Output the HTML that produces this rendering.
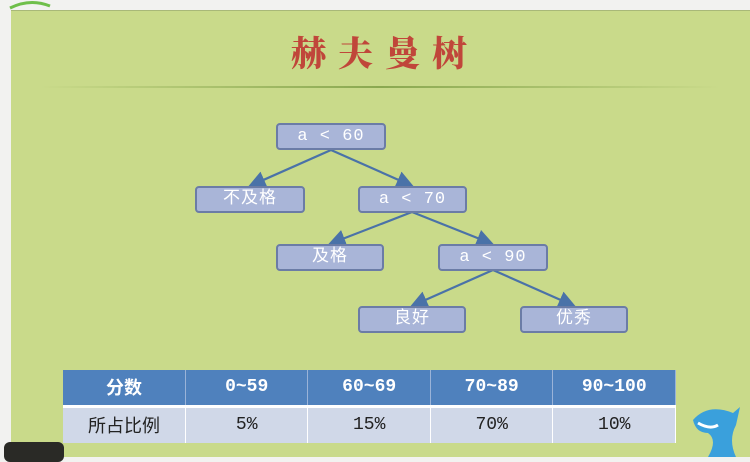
<!DOCTYPE html>
<html><head><meta charset="utf-8">
<style>
*{margin:0;padding:0;box-sizing:border-box}
body{width:750px;height:457px;overflow:hidden;background:#f2f2f0;position:relative;font-family:"Liberation Mono","Noto Sans CJK SC",monospace}
#panel{position:absolute;left:11px;top:10px;width:739px;height:447px;background:#c9da8a;border-top:1px solid #a8b878}
#title{position:absolute;left:0;width:750px;top:27px;text-align:center;font-family:"Noto Serif CJK SC","WenQuanYi Zen Hei",serif;font-weight:900;font-size:35px;color:#c0463a;letter-spacing:12px;padding-left:20px}
#rule{position:absolute;left:40px;top:86px;width:680px;height:2px;background:linear-gradient(90deg,rgba(140,170,80,0),#8aa850 50%,rgba(140,170,80,0))}
.node{position:absolute;height:27px;background:#a9b5d8;border:2px solid #6b7ca6;border-radius:4px;color:#fff;font-size:17px;text-align:center;line-height:23px;letter-spacing:1px}
svg{position:absolute;left:0;top:0}
table{position:absolute;left:63px;top:370px;border-collapse:collapse;width:613px}
td{width:122.6px;text-align:center;font-size:18px}
tr.h td{background:#4f81bd;color:#fff;height:36px;border-right:1px solid #9ab3d8;border-bottom:3px solid #fff;font-weight:bold}
tr.b td{background:#d0d8e8;color:#222;height:37px;border-right:1px solid #fff}
#dark{position:absolute;left:4px;top:442px;width:60px;height:20px;background:#2a2a26;border-radius:6px}
#shark{position:absolute;left:688px;top:405px;width:55px;height:52px}
</style></head><body>
<div id="panel"></div>
<svg width="750" height="20"><path d="M10 8 Q30 -2 50 6" stroke="#6fbf4a" stroke-width="3" fill="none"/></svg>
<div id="title">赫夫曼树</div>
<div id="rule"></div>
<svg width="750" height="457">
<defs><marker id="ar" markerWidth="8" markerHeight="8" refX="6" refY="4" orient="auto"><path d="M0,0 L8,4 L0,8z" fill="#4a72a8"/></marker></defs>
<g stroke="#4a72a8" stroke-width="2.2" marker-end="url(#ar)">
<line x1="331" y1="150" x2="252" y2="185"/>
<line x1="331" y1="150" x2="410" y2="185"/>
<line x1="412" y1="212" x2="332" y2="243"/>
<line x1="412" y1="212" x2="490" y2="243"/>
<line x1="493" y1="270" x2="414" y2="305"/>
<line x1="493" y1="270" x2="572" y2="305"/>
</g></svg>
<div class="node" style="left:276px;top:123px;width:110px">a &lt; 60</div>
<div class="node" style="left:195px;top:186px;width:110px">不及格</div>
<div class="node" style="left:358px;top:186px;width:109px">a &lt; 70</div>
<div class="node" style="left:276px;top:244px;width:108px">及格</div>
<div class="node" style="left:438px;top:244px;width:110px">a &lt; 90</div>
<div class="node" style="left:358px;top:306px;width:108px">良好</div>
<div class="node" style="left:520px;top:306px;width:108px">优秀</div>
<table>
<tr class="h"><td>分数</td><td>0~59</td><td>60~69</td><td>70~89</td><td>90~100</td></tr>
<tr class="b"><td>所占比例</td><td>5%</td><td>15%</td><td>70%</td><td>10%</td></tr>
</table>
<div id="dark"></div>
<svg id="shark" viewBox="0 0 55 52"><path d="M5 15 Q20 -2 45 8 L52 2 L48 20 Q40 35 48 52 L20 52 Q30 35 20 28 Q8 28 5 15z" fill="#3aa0dc"/><path d="M10 18 Q22 25 30 20" stroke="#fff" stroke-width="3" fill="none"/></svg>
</body></html>
